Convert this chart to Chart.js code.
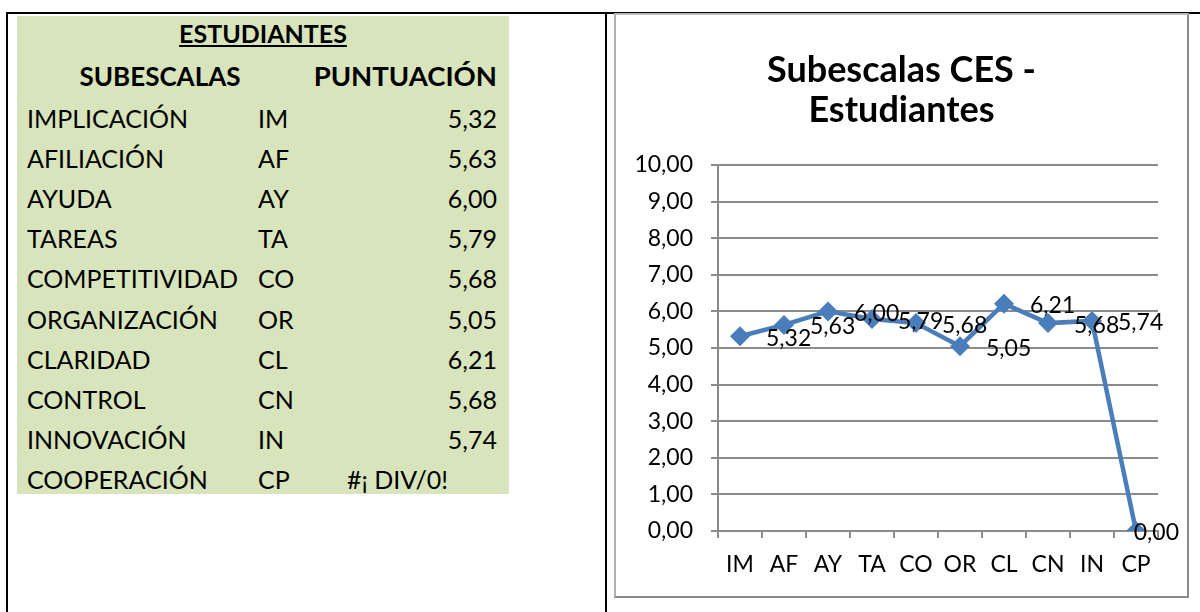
<!DOCTYPE html>
<html>
<head>
<meta charset="utf-8">
<script src="https://cdn.jsdelivr.net/npm/chart.js@4"></script>
<style>
  html, body { margin: 0; padding: 0; background: #fff; }
  body { width: 1200px; height: 612px; position: relative; overflow: hidden; font-family: Lato, "Open Sans", sans-serif; color: #000; }
  .line { position: absolute; background: #000; }
  #sheet { position: absolute; left: 17px; top: 16px; width: 492px; height: 478px; background: #D8E4BC; }
  #sheet div { position: absolute; height: 40px; line-height: 40px; font-size: 25px; white-space: nowrap; }
  #sheet .hd { font-weight: bold; font-size: 26px; }
  #chartBox { position: absolute; left: 614px; top: 13px; width: 571px; height: 581px;
    border-top: 2px solid #bdbdbd; border-left: 2px solid #b0b0b0;
    border-right: 2px solid #8a8a8a; border-bottom: 2px solid #8a8a8a; background: #fff; }
  #chartBox canvas { display: block; }
</style>
</head>
<body>
<div class="line" style="left:6px; top:12px; width:1194px; height:2px;"></div>
<div class="line" style="left:6px; top:12px; width:2px; height:600px;"></div>
<div class="line" style="left:605px; top:12px; width:2px; height:600px;"></div>

<div id="sheet"></div>

<div id="chartBox"><canvas id="cesChart" width="571" height="581"></canvas></div>

<script>
const subscales = ['IMPLICACIÓN', 'AFILIACIÓN', 'AYUDA', 'TAREAS', 'COMPETITIVIDAD', 'ORGANIZACIÓN', 'CLARIDAD', 'CONTROL', 'INNOVACIÓN', 'COOPERACIÓN'];
const codes = ['IM', 'AF', 'AY', 'TA', 'CO', 'OR', 'CL', 'CN', 'IN', 'CP'];
const scores = [5.32, 5.63, 6.00, 5.79, 5.68, 5.05, 6.21, 5.68, 5.74, 0];
const errorCodes = ['CP'];
const yTicks = [0, 1, 2, 3, 4, 5, 6, 7, 8, 9, 10];

const fmt = v => v.toFixed(2).replace('.', ',');

// left-hand sheet table
const sheet = document.getElementById('sheet');
function cell(text, css, cls) {
  const d = document.createElement('div');
  d.textContent = text;
  d.style.cssText = css;
  if (cls) d.className = cls;
  sheet.appendChild(d);
  return d;
}
cell('ESTUDIANTES', 'left:0; width:492px; text-align:center; top:-3px; text-decoration:underline; font-size:25px;', 'hd');
cell('SUBESCALAS', 'left:43px; width:200px; text-align:center; top:40px;', 'hd');
cell('PUNTUACIÓN', 'right:12px; text-align:right; top:40px; font-size:27.5px;', 'hd');
subscales.forEach((name, i) => {
  const top = 82 + i * 40.1;
  cell(name, 'left:10px; top:' + top + 'px;');
  cell(codes[i], 'left:241px; top:' + top + 'px;');
  if (errorCodes.includes(codes[i])) {
    cell('#¡ DIV/0!', 'left:330px; top:' + top + 'px;');
  } else {
    cell(fmt(scores[i]), 'right:12px; text-align:right; top:' + top + 'px;');
  }
});

// value labels to the right of each point
const pointLabels = {
  id: 'pointLabels',
  afterDatasetsDraw(chart) {
    const ctx = chart.ctx;
    const meta = chart.getDatasetMeta(0);
    ctx.save();
    ctx.font = '23px Lato, "Open Sans", sans-serif';
    ctx.fillStyle = '#000';
    ctx.textAlign = 'left';
    ctx.textBaseline = 'middle';
    meta.data.forEach((pt, i) => {
      const txt = fmt(scores[i]);
      const w = ctx.measureText(txt).width;
      let x = pt.x + 26;
      if (x + w > chart.width - 8) x = chart.width - 8 - w;
      ctx.fillText(txt, x, pt.y + 2);
    });
    ctx.restore();
  }
};

Chart.defaults.font.family = 'Lato, "Open Sans", sans-serif';
Chart.defaults.color = '#000';

const ctx = document.getElementById('cesChart').getContext('2d');
const chart = new Chart(ctx, {
  type: 'line',
  data: {
    labels: codes,
    datasets: [{
      label: 'Estudiantes',
      data: scores,
      borderColor: '#4A7EBB',
      backgroundColor: '#4A7EBB',
      borderWidth: 4.5,
      tension: 0,
      pointStyle: 'rectRot',
      pointRadius: 10,
      pointHoverRadius: 10,
      pointBorderWidth: 0,
      fill: false
    }]
  },
  options: {
    responsive: false,
    animation: false,
    layout: { padding: 0 },
    plugins: {
      legend: { display: false },
      tooltip: { enabled: false },
      title: {
        display: true,
        text: ['Subescalas CES -', 'Estudiantes'],
        color: '#000',
        font: { size: 36, weight: 'bold', lineHeight: 40 / 36 },
        padding: { top: 35, bottom: 35 }
      }
    },
    scales: {
      x: {
        offset: true,
        grid: { offset: true, drawOnChartArea: false, drawTicks: true, tickLength: 7, color: '#8c8c8c', lineWidth: 2 },
        border: { display: true, color: '#8c8c8c', width: 2 },
        ticks: { font: { size: 23 }, padding: 13, color: '#000', maxRotation: 0, autoSkip: false },
        afterFit(scale) { scale.height = 65; }
      },
      y: {
        min: yTicks[0],
        max: yTicks[yTicks.length - 1],
        afterBuildTicks(scale) { scale.ticks = yTicks.map(v => ({ value: v })); },
        grid: { color: '#8c8c8c', lineWidth: 2, tickLength: 7 },
        border: { display: true, color: '#8c8c8c', width: 2 },
        ticks: { font: { size: 23 }, padding: 18, color: '#000', callback: v => fmt(v) },
        afterFit(scale) { scale.width = 102; }
      },
      // empty right-hand spacer so the title stays centred on the whole box
      spacer: {
        type: 'linear',
        position: 'right',
        display: true,
        grid: { display: false },
        border: { display: false },
        ticks: { display: false },
        afterFit(scale) { scale.width = 29; }
      }
    }
  },
  plugins: [pointLabels]
});
</script>
</body>
</html>
